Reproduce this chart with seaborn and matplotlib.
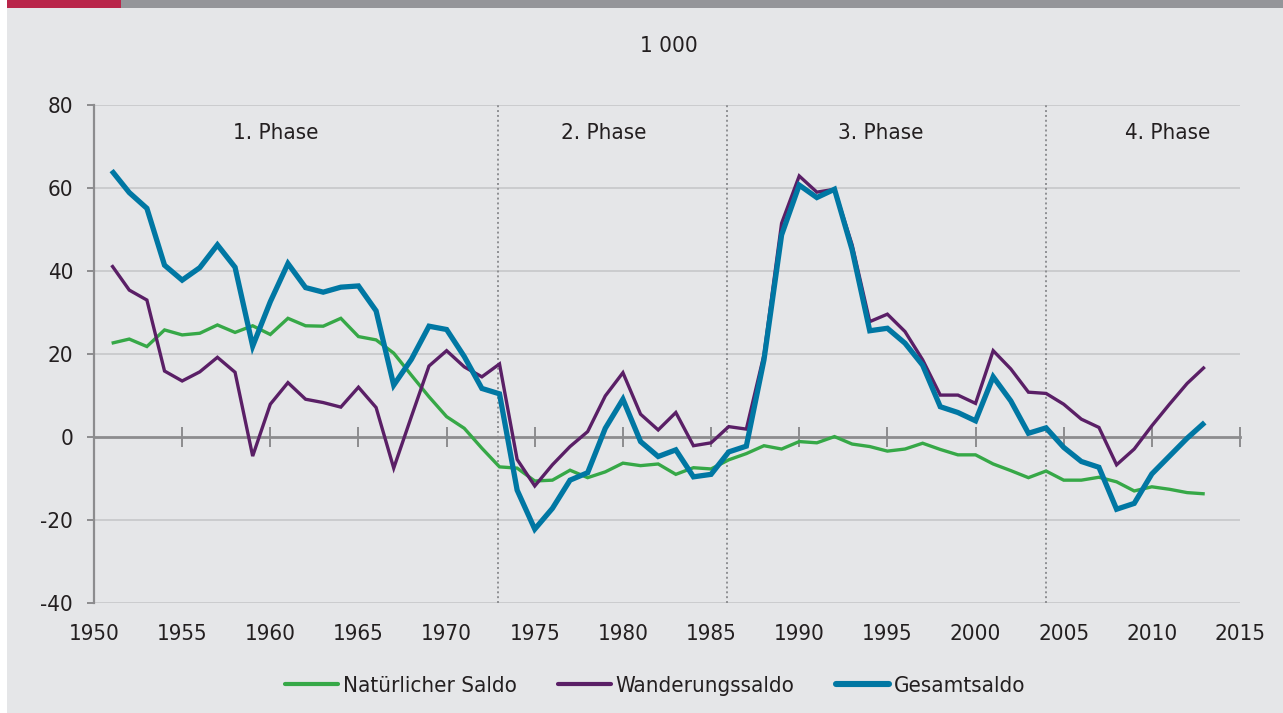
import numpy as np
import pandas as pd
import matplotlib
matplotlib.use("Agg")
import matplotlib.pyplot as plt
import seaborn as sns
from matplotlib.lines import Line2D
from matplotlib.patches import Rectangle
from matplotlib import font_manager as fm

years = list(range(1951, 2014))

natuerlich = [22.6, 23.6, 21.8, 25.8, 24.6, 25.0, 27.0, 25.2, 26.8, 24.7,
              28.6, 26.8, 26.7, 28.6, 24.2, 23.4, 20.2, 14.9, 9.7, 4.9,
              2.1, -2.7, -7.2, -7.5, -10.6, -10.4, -8.0, -9.8, -8.4, -6.3,
              -6.9, -6.5, -9.0, -7.4, -7.7, -5.5, -4.0, -2.1, -2.9, -1.1,
              -1.4, 0.1, -1.7, -2.3, -3.4, -2.9, -1.5, -3.0, -4.3, -4.3,
              -6.5, -8.1, -9.8, -8.2, -10.4, -10.4, -9.7, -10.8, -13.0, -12.0,
              -12.6, -13.4, -13.7]

wanderung = [41.4, 35.4, 33.0, 15.9, 13.5, 15.7, 19.2, 15.6, -4.6, 7.9,
             13.1, 9.1, 8.3, 7.2, 12.0, 7.1, -7.5, 4.9, 17.1, 20.8,
             16.9, 14.5, 17.6, -5.4, -11.8, -6.7, -2.3, 1.3, 9.9, 15.5,
             5.5, 1.7, 5.9, -2.1, -1.4, 2.5, 1.9, 19.8, 51.5, 62.9,
             59.0, 59.7, 46.3, 27.8, 29.6, 25.4, 18.6, 10.1, 10.1, 8.1,
             20.8, 16.4, 10.8, 10.5, 7.9, 4.3, 2.3, -6.7, -2.9, 2.7,
             7.9, 12.9, 16.9]

gesamt = [64.2, 58.9, 55.1, 41.4, 37.8, 40.8, 46.3, 40.9, 21.9, 32.6,
          41.8, 36.0, 34.9, 36.1, 36.4, 30.4, 12.5, 18.7, 26.7, 25.9,
          19.4, 11.7, 10.4, -12.8, -22.2, -17.2, -10.4, -8.6, 2.1, 9.1,
          -1.1, -4.7, -3.1, -9.6, -9.0, -3.6, -2.2, 18.6, 48.7, 60.7,
          57.7, 59.7, 45.1, 25.6, 26.2, 22.6, 17.3, 7.3, 5.9, 3.9,
          14.5, 8.7, 0.9, 2.2, -2.5, -5.9, -7.3, -17.4, -16.0, -8.9,
          -4.6, -0.3, 3.5]

series_names = ["Natürlicher Saldo", "Wanderungssaldo", "Gesamtsaldo"]
phase_labels = ["1. Phase", "2. Phase", "3. Phase", "4. Phase"]
phase_label_x = [1960.3, 1978.9, 1994.6, 2010.9]
phase_bounds = [1972.9, 1985.9, 2004.0]
x_ticks = list(range(1950, 2016, 5))
y_ticks = [-40, -20, 0, 20, 40, 60, 80]
unit_label = "1 000"

colors = {"Natürlicher Saldo": "#36A847",
          "Wanderungssaldo": "#5A1F66",
          "Gesamtsaldo": "#0077A3"}
widths = {"Natürlicher Saldo": 2.4, "Wanderungssaldo": 2.4, "Gesamtsaldo": 3.8}
legend_widths = {"Natürlicher Saldo": 3.0, "Wanderungssaldo": 3.0, "Gesamtsaldo": 4.4}

df = pd.DataFrame({"Jahr": years,
                   "Natürlicher Saldo": natuerlich,
                   "Wanderungssaldo": wanderung,
                   "Gesamtsaldo": gesamt})
long = df.melt(id_vars="Jahr", var_name="Serie", value_name="Wert")

sns.set_theme(style="white")
plt.rcParams["font.family"] = ["Open Sans", "DejaVu Sans"]


def pick_condensed():
    prefs = ["NotoSans-Condensed.ttf", "LiberationSansNarrow-Regular.ttf",
             "DejaVuSansCondensed.ttf", "NotoSans-SemiCondensed.ttf",
             "OpenSans_Condensed-Regular.ttf", "Roboto_Condensed-Regular.ttf",
             "RobotoCondensed-Regular.ttf"]
    files = [f.fname for f in fm.fontManager.ttflist]
    for p in prefs:
        for f in files:
            if f.endswith(p):
                return f
    for f in files:
        base = f.split("/")[-1].lower()
        if ("condensed" in base or "narrow" in base) and "bold" not in base \
                and "italic" not in base and "light" not in base and "black" not in base \
                and "thin" not in base and "medium" not in base and "extra" not in base:
            return f
    return None


cf = pick_condensed()
FS = 16
if cf:
    fp = fm.FontProperties(fname=cf, size=FS)
else:
    fp = fm.FontProperties(family=["Open Sans", "DejaVu Sans"], size=FS - 1.5)

txt = "#231F20"
bg = "#E5E6E8"

fig = plt.figure(figsize=(12.83, 7.13), dpi=100, facecolor="white")
fig.patches.append(Rectangle((7 / 1283, 0), 1 - 7 / 1283, 1, transform=fig.transFigure,
                             facecolor=bg, edgecolor="none", zorder=-10))
fig.patches.append(Rectangle((7 / 1283, 1 - 8 / 713), 114 / 1283, 8 / 713, transform=fig.transFigure,
                             facecolor="#B9254A", edgecolor="none", zorder=-5))
fig.patches.append(Rectangle((121 / 1283, 1 - 8 / 713), 1 - 121 / 1283, 8 / 713, transform=fig.transFigure,
                             facecolor="#949599", edgecolor="none", zorder=-5))

ax = fig.add_axes([94 / 1283, 1 - 603 / 713, (1240 - 94) / 1283, (603 - 105) / 713])
ax.set_facecolor(bg)

for name in series_names:
    sub = long[long["Serie"] == name]
    sns.lineplot(data=sub, x="Jahr", y="Wert", ax=ax, color=colors[name],
                 linewidth=widths[name], legend=False, zorder=3,
                 solid_joinstyle="miter", solid_capstyle="butt")

ax.set_xlim(1950, 2015)
ax.set_ylim(-40, 80)
ax.set_xlabel("")
ax.set_ylabel("")

for yv in y_ticks:
    if yv != 0:
        ax.axhline(yv, color="#C9CACC", lw=1.3, zorder=1)

for xb in phase_bounds:
    ax.axvline(xb, color="#8E8F92", lw=1.4, ls=(0, (1, 1.5)), zorder=2)

for lab, xl in zip(phase_labels, phase_label_x):
    ax.text(xl, 73.3, lab, ha="center", va="center", fontproperties=fp, color=txt)

for s in ["top", "right"]:
    ax.spines[s].set_visible(False)
ax.spines["left"].set_color("#8C8C8E")
ax.spines["left"].set_linewidth(1.6)
ax.spines["bottom"].set_position(("data", 0))
ax.spines["bottom"].set_color("#8C8C8E")
ax.spines["bottom"].set_linewidth(2.0)
ax.spines["bottom"].set_zorder(2)

ax.set_xticks(x_ticks)
ax.set_xticklabels([])
ax.tick_params(axis="x", direction="inout", length=14, width=1.4, color="#8C8C8E", bottom=True)
ax.set_yticks(y_ticks)
ax.set_yticklabels([str(v) for v in y_ticks])
ax.tick_params(axis="y", direction="out", length=5, width=1.4, color="#8C8C8E",
               labelcolor=txt, pad=10, left=True)
for t in ax.get_yticklabels():
    t.set_fontproperties(fp)

sec = ax.secondary_xaxis("bottom")
sec.set_xticks(x_ticks)
sec.set_xticklabels([str(v) for v in x_ticks])
sec.tick_params(length=0, labelcolor=txt, pad=15)
sec.spines["bottom"].set_visible(False)
for t in sec.get_xticklabels():
    t.set_fontproperties(fp)

fig.text(669 / 1283, 1 - 46 / 713, unit_label, ha="center", va="center", fontproperties=fp, color=txt)

handles = [Line2D([0], [0], color=colors[n], lw=legend_widths[n], solid_capstyle="round")
           for n in series_names]
fig.legend(handles, series_names, loc="center", bbox_to_anchor=(655 / 1283, 1 - 686 / 713),
           ncol=3, frameon=False, prop=fp, handlelength=2.4, handletextpad=0.2,
           columnspacing=1.85, labelcolor=txt)

fig.savefig("out.png", dpi=100, facecolor=fig.get_facecolor())
